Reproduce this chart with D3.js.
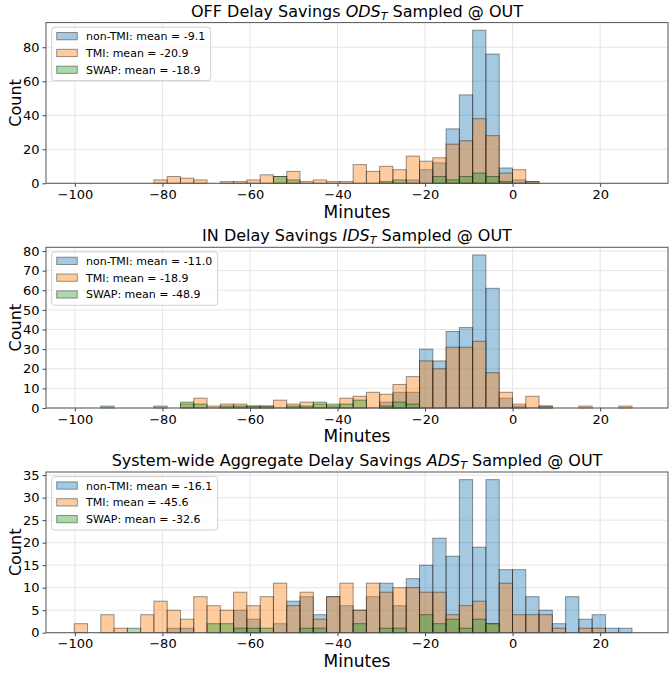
<!DOCTYPE html>
<html>
<head>
<meta charset="utf-8">
<script src="https://cdn.jsdelivr.net/npm/d3@7"></script>
<style>
html, body { margin: 0; padding: 0; background: #fff; overflow: hidden; }
svg { display: block; }
text { font-family: "DejaVu Sans", sans-serif; fill: #000; }
</style>
</head>
<body>
<div id="chart"></div>
<script>
// shared histogram bins (minutes)
var binLo = -100.15;
var binWidth = 3.034;
var xTicks = [-100, -80, -60, -40, -20, 0, 20];
var seriesNames = ['non-TMI', 'TMI', 'SWAP'];
var seriesColors = ['#1f77b4', '#ff7f0e', '#2ca02c'];

// OFF delay savings counts per bin
var odsNonTmi = [0,0,0,0,0, 0,0,0,0,0, 0,0,0,0,0, 0,0,0,0,0, 0,0,0,0,0, 2,8,12,32,52, 90,76,9,2,1, 0,0,0,0,0, 0,0];
var odsTmi    = [0,0,0,0,0, 0,2,4,3,2, 0,1,1,2,5, 4,7,1,2,1, 1,11,7,10,8, 16,13,15,23,25, 38,28,6,8,1, 0,0,0,0,0, 0,0];
var odsSwap   = [0,0,0,0,0, 0,0,0,0,0, 0,0,0,0,0, 4,2,0,0,0, 0,0,0,1,2, 0,0,4,2,4, 6,4,1,0,0, 0,0,0,0,0, 0,0];
var odsMeans  = ['-9.1', '-20.9', '-18.9'];
var odsTicks  = [0, 20, 40, 60, 80];

// IN delay savings counts per bin
var idsNonTmi = [0,0,0,0,0, 0,0,0,0,0, 0,0,0,0,0, 0,0,0,0,0, 0,0,0,3,8, 8,30,24,39,41, 78,61,5,1,0, 1,0,0,0,0, 0,0];
var idsTmi    = [0,0,0,0,0, 0,0,0,2,5, 1,2,2,1,1, 4,2,3,2,1, 5,6,8,7,12, 16,24,20,31,31, 34,18,8,2,6, 1,0,0,1,0, 0,1];
var idsSwap   = [0,0,1,0,0, 0,1,0,3,2, 0,1,1,1,1, 0,1,1,3,2, 2,4,0,1,3, 2,0,0,0,0, 0,0,0,0,0, 0,0,0,0,0, 0,0];
var idsMeans  = ['-11.0', '-18.9', '-48.9'];
var idsTicks  = [0, 10, 20, 30, 40, 50, 60, 70, 80];

// system-wide aggregate delay savings counts per bin
var adsNonTmi = [0,0,0,0,0, 0,0,1,1,0, 0,0,5,3,0, 2,7,8,4,8, 6,5,8,11,6, 12,15,21,17,34, 19,34,14,14,8, 5,2,8,3,4, 1,1];
var adsTmi    = [2,0,4,1,0, 4,7,5,3,8, 6,5,9,6,8, 11,6,9,3,8, 11,5,11,9,10, 10,9,9,4,6, 7,2,11,4,4, 4,1,0,1,1, 0,0];
var adsSwap   = [0,0,0,0,1, 0,0,0,0,0, 2,2,1,1,1, 0,0,1,1,0, 0,2,0,1,1, 0,4,2,3,1, 3,2,0,0,0, 0,0,0,0,0, 0,0];
var adsMeans  = ['-16.1', '-45.6', '-32.6'];
var adsTicks  = [0, 5, 10, 15, 20, 25, 30, 35];

var panels = [
    { pre: 'OFF Delay Savings ', sym: 'ODS', post: ' Sampled @ OUT', series: [odsNonTmi, odsTmi, odsSwap], means: odsMeans, ticks: odsTicks },
    { pre: 'IN Delay Savings ', sym: 'IDS', post: ' Sampled @ OUT', series: [idsNonTmi, idsTmi, idsSwap], means: idsMeans, ticks: idsTicks },
    { pre: 'System-wide Aggregate Delay Savings ', sym: 'ADS', post: ' Sampled @ OUT', series: [adsNonTmi, adsTmi, adsSwap], means: adsMeans, ticks: adsTicks }
];

// size globals
var width = 669;
var height = 675;
var left = 46;
var right = 668;
var innerHeight = 160.7;
var panelStep = 224.7;
var firstTop = 22.6;

var svg = d3
    .select('#chart')
    .append('svg')
    .attr('width', width)
    .attr('height', height);

var x = d3
    .scaleLinear()
    .domain([-106.6, 35.5])
    .range([left, right]);

var fmt = d3.format('d');

// put a text's content inside a tspan
function wrapLabel(sel) {
    sel.each(function() {
        var t = d3.select(this);
        var s = t.text();
        t.text(null).append('tspan').text(s);
    });
}

panels.forEach(function(p, i) {
    var top = firstTop + i * panelStep;
    var g = svg.append('g').attr('transform', 'translate(0,' + top + ')');

    var maxCount = d3.max(p.series, function(s) { return d3.max(s); });
    var y = d3
        .scaleLinear()
        .domain([0, maxCount * 1.05])
        .range([innerHeight, 0]);

    // grid
    g.selectAll('.vgrid')
        .data(xTicks)
        .enter()
        .append('line')
        .attr('x1', function(d) { return x(d); })
        .attr('x2', function(d) { return x(d); })
        .attr('y1', 0)
        .attr('y2', innerHeight)
        .attr('stroke', '#e6e6e6')
        .attr('stroke-width', 1);

    g.selectAll('.hgrid')
        .data(p.ticks)
        .enter()
        .append('line')
        .attr('x1', left)
        .attr('x2', right)
        .attr('y1', function(d) { return y(d); })
        .attr('y2', function(d) { return y(d); })
        .attr('stroke', '#e6e6e6')
        .attr('stroke-width', 1);

    // bars, one layer per series
    p.series.forEach(function(counts, si) {
        g.selectAll('.bar-' + si)
            .data(counts)
            .enter()
            .append('rect')
            .attr('class', 'bar-' + si)
            .attr('x', function(d, k) { return x(binLo + k * binWidth); })
            .attr('width', function(d, k) { return x(binLo + (k + 1) * binWidth) - x(binLo + k * binWidth); })
            .attr('y', function(d) { return y(d); })
            .attr('height', function(d) { return innerHeight - y(d); })
            .attr('fill', seriesColors[si])
            .attr('fill-opacity', 0.4)
            .attr('stroke', '#000')
            .attr('stroke-opacity', 0.4)
            .attr('stroke-width', 1);
    });

    // axes
    var xAxis = d3.axisBottom(x).tickValues(xTicks).tickSizeOuter(0).tickSize(3.5).tickPadding(3).tickFormat(fmt);
    var xg = g.append('g')
        .attr('transform', 'translate(0,' + innerHeight + ')')
        .call(xAxis)
        .attr('font-size', 13)
        .attr('font-family', null);
    xg.select('.domain').remove();
    xg.selectAll('text').attr('fill', '#000').call(wrapLabel);
    xg.selectAll('line').attr('stroke', '#444');

    var yAxis = d3.axisLeft(y).tickValues(p.ticks).tickSizeOuter(0).tickSize(3.5).tickPadding(3).tickFormat(fmt);
    var yg = g.append('g')
        .attr('transform', 'translate(' + left + ',0)')
        .call(yAxis)
        .attr('font-size', 13)
        .attr('font-family', null);
    yg.select('.domain').remove();
    yg.selectAll('text').attr('fill', '#000').call(wrapLabel);
    yg.selectAll('line').attr('stroke', '#444');

    // frame
    g.append('rect')
        .attr('x', left)
        .attr('y', 0)
        .attr('width', right - left)
        .attr('height', innerHeight)
        .attr('fill', 'none')
        .attr('stroke', '#555')
        .attr('stroke-width', 1);

    // title
    var title = g.append('text')
        .attr('x', (left + right) / 2)
        .attr('y', -6)
        .attr('text-anchor', 'middle')
        .style('font-size', '16px');
    title.append('tspan').text(p.pre);
    title.append('tspan').style('font-style', 'italic').text(p.sym);
    title.append('tspan').style('font-style', 'italic').style('font-size', '11px').attr('dy', 3).text('T');
    title.append('tspan').attr('dy', -3).text(p.post);

    // axis labels
    g.append('text')
        .attr('x', (left + right) / 2)
        .attr('y', innerHeight + 34.4)
        .attr('text-anchor', 'middle')
        .style('font-size', '17px')
        .append('tspan')
        .text('Minutes');

    g.append('text')
        .attr('transform', 'translate(21,' + innerHeight / 2 + ') rotate(-90)')
        .attr('text-anchor', 'middle')
        .style('font-size', '16px')
        .append('tspan')
        .text('Count');

    // legend
    var lg = g.append('g');
    var box = lg.append('rect')
        .attr('x', left + 5.7)
        .attr('y', 4.6)
        .attr('rx', 3)
        .attr('fill', '#fff')
        .attr('fill-opacity', 0.8)
        .attr('stroke', '#d0d0d0')
        .attr('stroke-width', 1);
    var maxLen = 0;
    seriesNames.forEach(function(name, si) {
        var cy = 13.6 + si * 16.8;
        lg.append('rect')
            .attr('x', left + 10.7)
            .attr('y', cy - 3.7)
            .attr('width', 20.6)
            .attr('height', 7.3)
            .attr('fill', seriesColors[si])
            .attr('fill-opacity', 0.4)
            .attr('stroke', '#000')
            .attr('stroke-opacity', 0.4);
        var t = lg.append('text')
            .attr('x', left + 40)
            .attr('y', cy + 4)
            .style('font-size', '11px');
        t.append('tspan').text(name + ': mean = ' + p.means[si]);
        maxLen = Math.max(maxLen, t.node().getComputedTextLength());
    });
    box.attr('width', 40 - 5.7 + maxLen + 5.5).attr('height', 53.4);
});
</script>
</body>
</html>
